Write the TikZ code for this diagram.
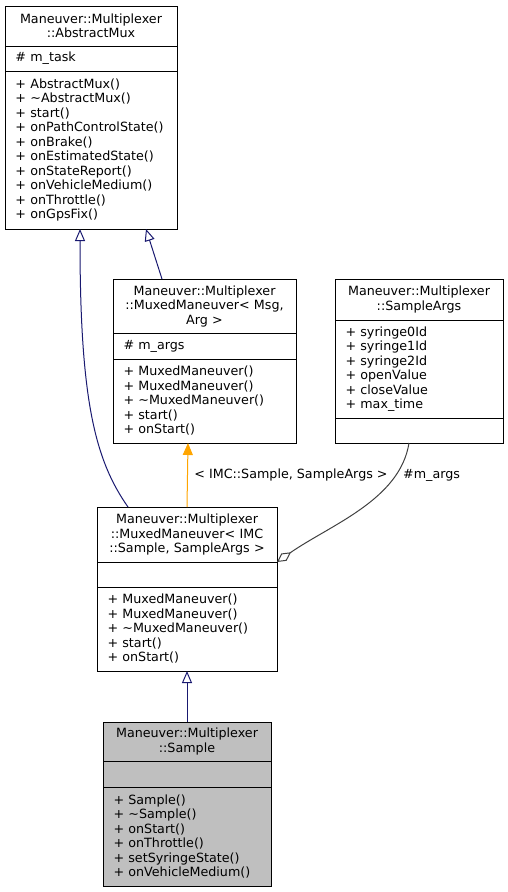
\documentclass[tikz,border=0pt]{standalone}
\usepackage{fontspec}
\setmainfont{DejaVu Sans}
\usetikzlibrary{arrows.meta}
\definecolor{navy}{HTML}{191970}
\definecolor{orng}{HTML}{FFA500}
\definecolor{edgegray}{HTML}{404040}
\definecolor{boxgray}{HTML}{BFBFBF}
\begin{document}
\begin{tikzpicture}[x=1pt,y=-1pt,
  umlfont/.style={font=\fontsize{12.7}{14.5}\selectfont},
  sec/.style={draw=black, line width=0.9pt, inner xsep=10.5pt, inner ysep=0pt, outer sep=0pt, anchor=north west, umlfont},
  ttl/.style={sec, align=center},
  lst/.style={sec, align=left},
  inh/.style={draw=navy, line width=1pt, -{Triangle[open, length=12pt, width=10pt]}},
  tmpl/.style={draw=orng, line width=1pt, -{Triangle[length=12pt, width=10pt, fill=orng]}},
  agg/.style={draw=edgegray, line width=1pt, -{Diamond[open, length=17pt, width=9pt]}},
  lbl/.style={umlfont, inner sep=0pt}
]
\useasboundingbox (0,0) rectangle (508,892);

% AbstractMux
\node[ttl, text width=151pt, minimum height=40pt] (amT) at (5,6) {Maneuver::Multiplexer\\::AbstractMux};
\node[lst, text width=151pt, minimum height=25pt] (amF) at (5,46) {\# m\_task};
\node[lst, text width=151pt, minimum height=158pt] (amM) at (5,71) {+ AbstractMux()\\+ \textasciitilde AbstractMux()\\+ start()\\+ onPathControlState()\\+ onBrake()\\+ onEstimatedState()\\+ onStateReport()\\+ onVehicleMedium()\\+ onThrottle()\\+ onGpsFix()};

% MuxedManeuver< Msg, Arg >
\node[ttl, text width=162pt, minimum height=54pt] (mmgT) at (113,279) {Maneuver::Multiplexer\\::MuxedManeuver< Msg,\\Arg >};
\node[lst, text width=162pt, minimum height=26pt] (mmgF) at (113,333) {\# m\_args};
\node[lst, text width=162pt, minimum height=84pt] (mmgM) at (113,359) {+ MuxedManeuver()\\+ MuxedManeuver()\\+ \textasciitilde MuxedManeuver()\\+ start()\\+ onStart()};

% SampleArgs
\node[ttl, text width=147pt, minimum height=41pt] (saT) at (335,279) {Maneuver::Multiplexer\\::SampleArgs};
\node[lst, text width=147pt, minimum height=98pt] (saF) at (335,320) {+ syringe0Id\\+ syringe1Id\\+ syringe2Id\\+ openValue\\+ closeValue\\+ max\_time};
\node[lst, text width=147pt, minimum height=25pt] (saM) at (335,418) {};

% MuxedManeuver< IMC::Sample, SampleArgs >
\node[ttl, text width=159pt, minimum height=55pt] (mmiT) at (97,507) {Maneuver::Multiplexer\\::MuxedManeuver< IMC\\::Sample, SampleArgs >};
\node[lst, text width=159pt, minimum height=25pt] (mmiF) at (97,562) {};
\node[lst, text width=159pt, minimum height=84pt] (mmiM) at (97,587) {+ MuxedManeuver()\\+ MuxedManeuver()\\+ \textasciitilde MuxedManeuver()\\+ start()\\+ onStart()};

% Sample
\node[ttl, fill=boxgray, text width=147pt, minimum height=39pt] (sT) at (103,722) {Maneuver::Multiplexer\\::Sample};
\node[lst, fill=boxgray, text width=147pt, minimum height=26pt] (sF) at (103,761) {};
\node[lst, fill=boxgray, text width=147pt, minimum height=99pt] (sM) at (103,787) {+ Sample()\\+ \textasciitilde Sample()\\+ onStart()\\+ onThrottle()\\+ setSyringeState()\\+ onVehicleMedium()};

% edges
\draw[inh] ([xshift=31pt]mmiT.north west) .. controls (95,460) and (80,400) .. ([xshift=75pt]amM.south west);
\draw[inh] ([xshift=49pt]mmgT.north west) -- ([xshift=141pt]amM.south west);
\draw[tmpl] ([xshift=90pt]mmiT.north west) -- ([xshift=75pt]mmgM.south west);
\draw[agg] ([xshift=74pt]saM.south west) .. controls (400,500) and (330,525) .. (mmiF.north east);
\draw[inh] ([xshift=84pt]sT.north west) -- ([xshift=90pt]mmiM.south west);

\node[lbl, anchor=base] (l1) at (291,478) {< IMC::Sample, SampleArgs >};
\node[lbl, anchor=base west] (l2) at (403,478) {\#m\_args};
\end{tikzpicture}
\end{document}
